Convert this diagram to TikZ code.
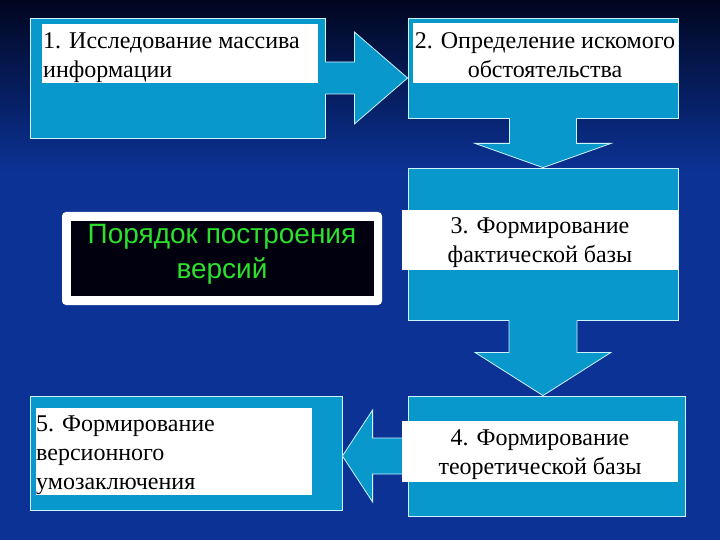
\documentclass[tikz,border=0pt]{standalone}
\usepackage{fontspec}
\setmainfont{Liberation Serif}
\newfontfamily\arialf{Liberation Sans}
\usetikzlibrary{calc}
\definecolor{bgtop}{HTML}{010620}
\definecolor{bgblue}{HTML}{0B3294}
\definecolor{cyanbox}{HTML}{0898CC}
\definecolor{edgec}{HTML}{D0F4FF}
\definecolor{vgreen}{HTML}{2EE02E}
\definecolor{darkin}{HTML}{00000F}
\begin{document}
\begin{tikzpicture}[x=1pt,y=-1pt,
  box/.style={draw=edgec, line width=0.8pt, fill=cyanbox, inner sep=0},
  label/.style={fill=white, inner sep=0},
  txt/.style={inner sep=0, font=\fontsize{24}{29}\selectfont, text=black},
  arrowfill/.style={fill=cyanbox},
  arrowline/.style={draw=edgec, line width=0.8pt, line join=miter}]
\useasboundingbox (0,0) rectangle (720,540);
% background
\shade[top color=bgtop, bottom color=bgblue] (0,0) rectangle (720,170);
\fill[bgblue] (0,170) rectangle (720,540);

% boxes
\node[box, minimum width=295, minimum height=120] (b1) at (177.5,78) {};
\node[box, minimum width=270, minimum height=100] (b2) at (543,68) {};
\node[box, minimum width=270, minimum height=152] (b3) at (543,244) {};
\node[box, minimum width=277, minimum height=120] (b4) at (546.5,456) {};
\node[box, minimum width=312, minimum height=114] (b5) at (186,453) {};

% arrow 1 -> 2
\fill[arrowfill] ($(b1.east)+(-1,-16)$) -- ($(b1.east)+(29,-16)$) -- ($(b1.east)+(29,-46)$)
  -- (b2.west |- b1.east) -- ($(b1.east)+(29,46)$) -- ($(b1.east)+(29,16)$) -- ($(b1.east)+(-1,16)$) -- cycle;
\draw[arrowline] ($(b1.east)+(0,-16)$) -- ($(b1.east)+(29,-16)$) -- ($(b1.east)+(29,-46)$)
  -- (b2.west |- b1.east) -- ($(b1.east)+(29,46)$) -- ($(b1.east)+(29,16)$) -- ($(b1.east)+(0,16)$);
% arrow 2 -> 3
\fill[arrowfill] ($(b2.south)+(-33.5,-1)$) -- ($(b2.south)+(-33.5,25)$) -- ($(b2.south)+(-68,25)$)
  -- (b3.north) -- ($(b2.south)+(68,25)$) -- ($(b2.south)+(33.5,25)$) -- ($(b2.south)+(33.5,-1)$) -- cycle;
\draw[arrowline] ($(b2.south)+(-33.5,0)$) -- ($(b2.south)+(-33.5,25)$) -- ($(b2.south)+(-68,25)$)
  -- (b3.north) -- ($(b2.south)+(68,25)$) -- ($(b2.south)+(33.5,25)$) -- ($(b2.south)+(33.5,0)$);
% arrow 3 -> 4
\fill[arrowfill] ($(b3.south)+(-34,-1)$) -- ($(b3.south)+(-34,32)$) -- ($(b3.south)+(-68,32)$)
  -- (b3.south |- b4.north) -- ($(b3.south)+(68,32)$) -- ($(b3.south)+(34,32)$) -- ($(b3.south)+(34,-1)$) -- cycle;
\draw[arrowline] ($(b3.south)+(-34,0)$) -- ($(b3.south)+(-34,32)$) -- ($(b3.south)+(-68,32)$)
  -- (b3.south |- b4.north) -- ($(b3.south)+(68,32)$) -- ($(b3.south)+(34,32)$) -- ($(b3.south)+(34,0)$);
% arrow 4 -> 5
\fill[arrowfill] ($(b4.west)+(1,-18)$) -- ($(b4.west)+(-35,-18)$) -- ($(b4.west)+(-35,-46)$)
  -- (b5.east |- b4.west) -- ($(b4.west)+(-35,46)$) -- ($(b4.west)+(-35,18)$) -- ($(b4.west)+(1,18)$) -- cycle;
\draw[arrowline] ($(b4.west)+(0,-18)$) -- ($(b4.west)+(-35,-18)$) -- ($(b4.west)+(-35,-46)$)
  -- (b5.east |- b4.west) -- ($(b4.west)+(-35,46)$) -- ($(b4.west)+(-35,18)$) -- ($(b4.west)+(0,18)$);

% white label areas
\node[label, minimum width=276, minimum height=59] (w1) at (180,53.5) {};
\node[label, minimum width=265, minimum height=60] (w2) at (545.5,53) {};
\node[label, minimum width=276, minimum height=60] (w3) at (540,240) {};
\node[label, minimum width=276, minimum height=61] (w4) at (540,451.5) {};
\node[label, minimum width=276, minimum height=87] (w5) at (174,451.5) {};

% texts
\node[txt, anchor=north west, align=left] (t1) at (43,27.7) {\strut 1. Исследование массива\\информации};
\node[txt, anchor=north, align=center] (t2) at (545,27.7) {\strut 2. Определение искомого\\обстоятельства};
\node[txt, anchor=north, align=center] (t3) at (540,212.7) {\strut 3. Формирование\\фактической базы};
\node[txt, anchor=north, align=center] (t4) at (540,424.7) {\strut 4. Формирование\\теоретической базы};
\node[txt, anchor=north west, align=left] (t5) at (36,410.7) {\strut 5. Формирование\\версионного\\умозаключения};

% central title box
\node[fill=white, rounded corners=4pt, minimum width=320, minimum height=93, inner sep=0] (co) at (222,258.5) {};
\node[fill=darkin, minimum width=303, minimum height=75, inner sep=0] (ci) at (222.5,258.5) {};
\node[inner sep=0, anchor=north, align=center, text=vgreen, font=\arialf\fontsize{28}{35}\selectfont] (tc) at (222,218.5) {\strut Порядок построения\\версий};
\end{tikzpicture}
\end{document}
